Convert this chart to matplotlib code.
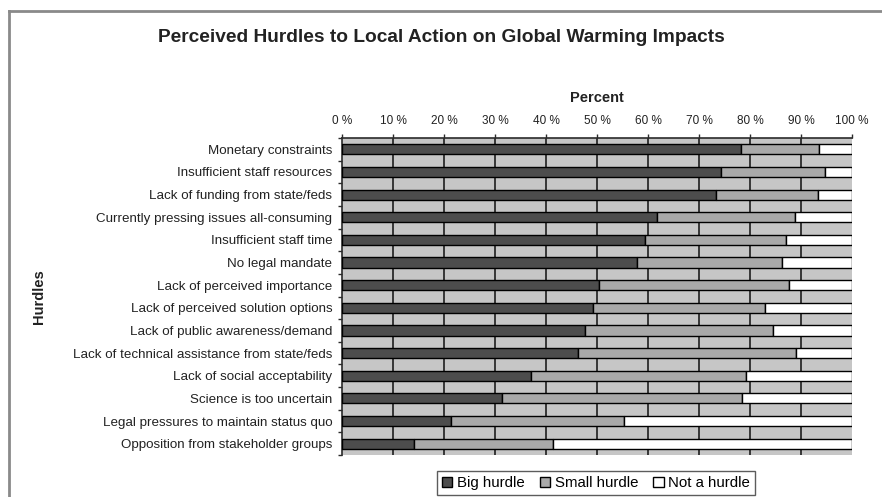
import matplotlib
matplotlib.use("Agg")
from matplotlib import pyplot as plt
from matplotlib.lines import Line2D
from matplotlib.patches import Patch
import numpy as np

plt.rcParams['font.family'] = ['Liberation Sans', 'DejaVu Sans']

# data (percent of respondents)
hurdles = ['Monetary constraints',
           'Insufficient staff resources',
           'Lack of funding from state/feds',
           'Currently pressing issues all-consuming',
           'Insufficient staff time',
           'No legal mandate',
           'Lack of perceived importance',
           'Lack of perceived solution options',
           'Lack of public awareness/demand',
           'Lack of technical assistance from state/feds',
           'Lack of social acceptability',
           'Science is too uncertain',
           'Legal pressures to maintain status quo',
           'Opposition from stakeholder groups']
big = [78.3, 74.4, 73.4, 61.7, 59.5, 57.8, 50.4, 49.2, 47.6, 46.3, 37.1, 31.4, 21.4, 14.1]
small = [15.3, 20.3, 20.0, 27.1, 27.6, 28.4, 37.3, 33.7, 37.0, 42.8, 42.1, 47.0, 33.9, 27.3]
not_h = [100 - b - s for b, s in zip(big, small)]
xticks = [0, 10, 20, 30, 40, 50, 60, 70, 80, 90, 100]

c_big = '#4d4d4d'
c_small = '#a9a9a9'
c_not = '#ffffff'
c_bg = '#c6c6c6'

fig = plt.figure(figsize=(8.82, 4.97), dpi=100)
ax = fig.add_axes([342 / 882, 1 - 455 / 497, (852 - 342) / 882, (455 - 138) / 497])
ax.set_facecolor(c_bg)

y = np.arange(len(hurdles))
h = 0.45
ax.barh(y, big, height=h, color=c_big, edgecolor='black', lw=1.0, zorder=3, label='Big hurdle')
ax.barh(y, small, left=big, height=h, color=c_small, edgecolor='black', lw=1.0, zorder=3,
        label='Small hurdle')
left2 = [b + s for b, s in zip(big, small)]
ax.barh(y, not_h, left=left2, height=h, color=c_not, edgecolor='black', lw=1.0, zorder=3,
        label='Not a hurdle')

for xv in xticks[1:-1]:
    ax.axvline(xv, color='#2b2b2b', lw=1.3, zorder=1)

ax.set_xlim(0, 100)
ax.set_ylim(len(hurdles) - 0.5, -0.5)

ax.xaxis.tick_top()
ax.xaxis.set_label_position('top')
ax.set_xticks(xticks)
ax.set_xticklabels(['%d %%' % v for v in xticks], fontsize=8.5, color='#222222')
ax.tick_params(axis='x', direction='out', length=3, width=1, color='#2b2b2b', pad=5)
ax.set_xlabel('Percent', fontsize=10.5, fontweight='bold', labelpad=9, color='#222222')

ax.set_yticks(y)
ax.set_yticklabels(hurdles, fontsize=9.6, color='#222222')
ax.set_yticks(np.arange(len(hurdles) + 1) - 0.5, minor=True)
ax.tick_params(axis='y', which='major', length=0, pad=7)
ax.tick_params(axis='y', which='minor', length=3, width=1, color='#2b2b2b', direction='out')
ax.set_ylabel('Hurdles', fontsize=10.5, fontweight='bold', color='#222222')
ax.yaxis.set_label_coords(46 / 882, 1 - 296.5 / 497, transform=fig.transFigure)

for s in ['right', 'bottom']:
    ax.spines[s].set_visible(False)
for s in ['left', 'top']:
    ax.spines[s].set_color('#2b2b2b')
    ax.spines[s].set_linewidth(1.2)

fig.text(0.5, 1 - 38 / 497, 'Perceived Hurdles to Local Action on Global Warming Impacts',
         ha='center', va='center', fontsize=13.8, fontweight='bold', color='#222222')

handles = [Patch(facecolor=c_big, edgecolor='black', label='Big hurdle'),
           Patch(facecolor=c_small, edgecolor='black', label='Small hurdle'),
           Patch(facecolor=c_not, edgecolor='black', label='Not a hurdle')]
leg = fig.legend(handles=handles, loc='center', bbox_to_anchor=(596 / 882, 1 - 483 / 497),
                 ncol=3, fontsize=10.8, frameon=True, fancybox=False, handlelength=0.7,
                 handleheight=0.7, handletextpad=0.3, columnspacing=1.0, borderpad=0.35)
leg.get_frame().set_edgecolor('#333333')
leg.get_frame().set_linewidth(1.0)

# chart area border (top and left visible)
fig.add_artist(Line2D([9 / 882, 1], [1 - 10.5 / 497] * 2, transform=fig.transFigure,
                      color='#8a8a8a', lw=2))
fig.add_artist(Line2D([9 / 882] * 2, [0, 1 - 10.5 / 497], transform=fig.transFigure,
                      color='#8a8a8a', lw=2))

fig.savefig('out.png', dpi=100)
